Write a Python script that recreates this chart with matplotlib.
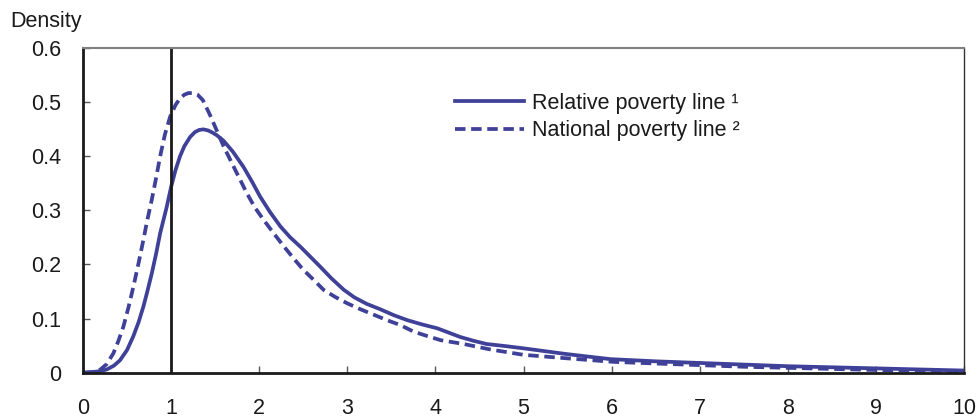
import numpy as np
import matplotlib.pyplot as plt

plt.rcParams['font.family'] = ['Liberation Sans', 'DejaVu Sans']

# density estimates (income / poverty line ratio)
x_rel = [0, 0.1, 0.2, 0.27, 0.35, 0.42, 0.5, 0.57, 0.63, 0.685, 0.73, 0.78, 0.83,
         0.875, 0.95, 1.0, 1.05, 1.1, 1.15, 1.216, 1.27, 1.32, 1.367, 1.42,
         1.47, 1.52, 1.595, 1.7, 1.82, 1.92, 2.01, 2.12, 2.24, 2.35, 2.47, 2.58,
         2.69, 2.82, 2.96, 3.08, 3.22, 3.375, 3.53, 3.68, 3.85, 4.02, 4.15, 4.28,
         4.43, 4.58, 4.8, 5.0, 5.23, 5.46, 5.72, 5.99, 6.25, 6.5, 7.0, 7.5, 8.0,
         8.5, 9.0, 9.5, 10.0]
y_rel = [0, 0.001, 0.003, 0.006, 0.013, 0.023, 0.042, 0.067, 0.093, 0.122, 0.15,
         0.183, 0.22, 0.257, 0.306, 0.343, 0.374, 0.399, 0.418, 0.435, 0.444,
         0.448, 0.449, 0.447, 0.443, 0.438, 0.428, 0.408, 0.38, 0.352, 0.325,
         0.297, 0.27, 0.25, 0.232, 0.214, 0.196, 0.174, 0.153, 0.139, 0.127,
         0.117, 0.106, 0.097, 0.089, 0.082, 0.074, 0.066, 0.059, 0.053, 0.049,
         0.045, 0.04, 0.035, 0.03, 0.025, 0.023, 0.021, 0.018, 0.015, 0.012,
         0.010, 0.008, 0.006, 0.004]

x_nat = [0, 0.1, 0.19, 0.27, 0.345, 0.4, 0.458, 0.515, 0.572, 0.63, 0.685, 0.73,
         0.78, 0.83, 0.875, 0.93, 0.99, 1.05, 1.1, 1.15, 1.197, 1.25, 1.3, 1.36,
         1.44, 1.52, 1.595, 1.71, 1.86, 1.95, 2.05, 2.17, 2.28, 2.39, 2.5, 2.62,
         2.73, 2.86, 3.0, 3.15, 3.3, 3.45, 3.6, 3.75, 3.9, 4.06, 4.32, 4.62, 5.0,
         5.46, 6.02, 6.5, 7.0, 7.5, 8.0, 8.5, 9.0, 9.5, 10.0]
y_nat = [0, 0.001, 0.005, 0.016, 0.036, 0.058, 0.085, 0.12, 0.159, 0.202, 0.245,
         0.282, 0.319, 0.36, 0.399, 0.44, 0.473, 0.494, 0.506, 0.513, 0.516,
         0.516, 0.513, 0.503, 0.476, 0.446, 0.418, 0.38, 0.331, 0.305, 0.282,
         0.256, 0.233, 0.211, 0.19, 0.171, 0.153, 0.14, 0.128, 0.117, 0.107,
         0.097, 0.088, 0.076, 0.068, 0.06, 0.053, 0.043, 0.033, 0.027, 0.02,
         0.017, 0.014, 0.011, 0.009, 0.007, 0.005, 0.004, 0.003]

color = '#3F4198'

fig = plt.figure(figsize=(9.78, 4.17), dpi=100)
ax = fig.add_axes([0.0849, 0.1062, 0.9008, 0.7798])

ax.plot(x_rel, y_rel, color=color, lw=2.7, label='Relative poverty line \u00b9',
        solid_joinstyle='round')
ax.plot(x_nat, y_nat, color=color, lw=2.7, linestyle=(0, (2.8, 1.5)),
        label='National poverty line \u00b2')
ax.axvline(1, color='#1a1a1a', lw=2)

ax.set_xlim(0, 10)
ax.set_ylim(0, 0.6)
ax.set_xticks(range(11))
ax.set_yticks([0, 0.1, 0.2, 0.3, 0.4, 0.5, 0.6])
ax.set_yticklabels(['0', '0.1', '0.2', '0.3', '0.4', '0.5', '0.6'])
ax.tick_params(axis='y', direction='in', length=5, width=1, color='#555555',
               pad=16, labelsize=15.5, colors='#1a1a1a')
ax.tick_params(axis='x', direction='in', length=5, width=1, color='#555555',
               pad=18, labelsize=15.5, colors='#1a1a1a')

for s in ['left', 'bottom']:
    ax.spines[s].set_color('#1a1a1a')
    ax.spines[s].set_linewidth(2)
ax.spines['top'].set_color('#808080')
ax.spines['top'].set_linewidth(1.5)
ax.spines['right'].set_color('#333333')
ax.spines['right'].set_linewidth(1)

ax.legend(loc='upper left', bbox_to_anchor=(0.4, 0.92), frameon=False,
          fontsize=15.5, handlelength=3.2, handletextpad=0.4, labelspacing=0.3,
          labelcolor='#1a1a1a')

fig.text(0.01, 0.935, 'Density', fontsize=15.5, color='#1a1a1a')

fig.savefig('out.png', dpi=100)
